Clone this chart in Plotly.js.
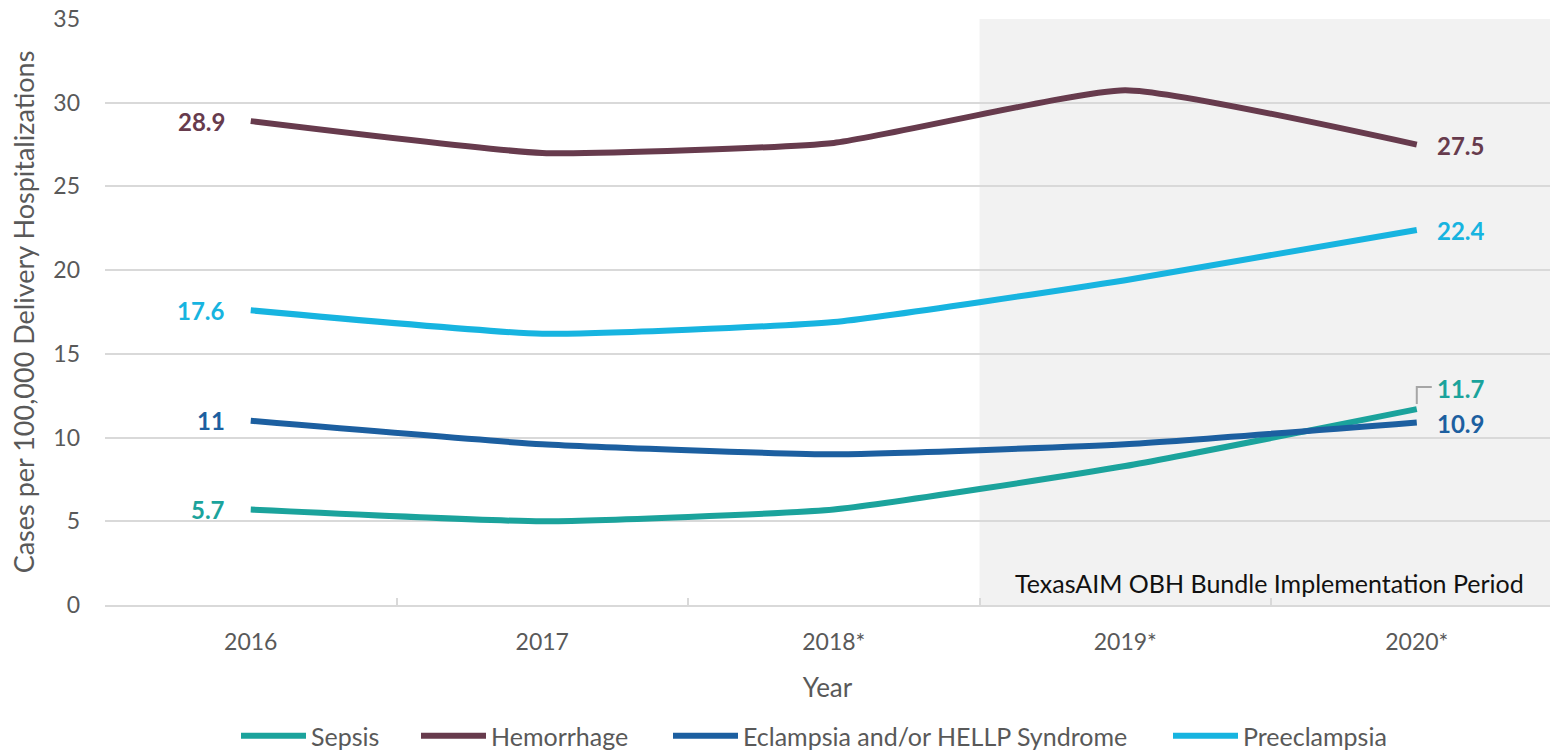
<!DOCTYPE html>
<html>
<head>
<meta charset="utf-8">
<script src="https://cdn.plot.ly/plotly-3.0.1.min.js"></script>
<style>html,body{margin:0;padding:0;background:#fff;}#chart{width:1550px;height:754px;}</style>
</head>
<body>
<div id="chart"></div>
<script>
const years = ["2016", "2017", "2018*", "2019*", "2020*"];
const sepsis = [5.7, 5.0, 5.7, 8.3, 11.7];
const hemorrhage = [28.9, 27.0, 27.6, 30.75, 27.5];
const eclampsia = [11.0, 9.6, 9.0, 9.6, 10.9];
const preeclampsia = [17.6, 16.2, 16.9, 19.4, 22.4];
const yTicks = [0, 5, 10, 15, 20, 25, 30, 35];

const FONT = "Lato, 'Open Sans', sans-serif";
const GRAY = "#595959";
const C = {sepsis: "#1BA39C", hem: "#673B4D", ecl: "#1C5FA0", pre: "#17B4E0"};

function tr(name, y, color, leg) {
  return {x: years, y: y, name: name, type: "scatter", mode: "lines", legend: leg,
    line: {color: color, width: 6, shape: "spline", smoothing: 0.45}, hoverinfo: "skip"};
}
const traces = [
  tr("Sepsis", sepsis, C.sepsis, "legend"),
  tr("Hemorrhage", hemorrhage, C.hem, "legend2"),
  tr("Eclampsia and/or HELLP Syndrome", eclampsia, C.ecl, "legend3"),
  tr("Preeclampsia", preeclampsia, C.pre, "legend4")
];

const series = [[sepsis, C.sepsis], [hemorrhage, C.hem], [eclampsia, C.ecl], [preeclampsia, C.pre]];
const annotations = [];
const last = years.length - 1;
const LBL = 24;
series.forEach(([vals, col]) => {
  annotations.push({x: 0, y: vals[0], xref: "x", yref: "y", text: String(vals[0]),
    showarrow: false, xanchor: "right", xshift: -24, font: {family: FONT, size: LBL, color: col, weight: 700}});
  const isSepsis = (vals === sepsis);
  annotations.push({x: last, y: vals[last], xref: "x", yref: "y", text: String(vals[last]),
    showarrow: false, xanchor: "left", xshift: 18, yshift: isSepsis ? 21 : -1,
    font: {family: FONT, size: LBL, color: col, weight: 700}});
});
annotations.push({x: 1, y: 0, xref: "paper", yref: "y", xanchor: "right", yanchor: "bottom",
  xshift: -24, yshift: 5, showarrow: false, text: "TexasAIM OBH Bundle Implementation Period",
  font: {family: FONT, size: 25, color: "#111"}});

function leg(px) {
  return {orientation: "h", xref: "container", yref: "container", x: px / 1550, xanchor: "left",
    y: 1 - 736 / 754, yanchor: "middle", font: {family: FONT, size: 25, color: GRAY},
    itemwidth: 65, bgcolor: "rgba(0,0,0,0)", borderwidth: 0};
}

const layout = {
  width: 1550, height: 754,
  margin: {l: 105, r: 0, t: 19, b: 149},
  paper_bgcolor: "#fff", plot_bgcolor: "#fff",
  font: {family: FONT, color: GRAY},
  showlegend: true,
  legend: leg(236), legend2: leg(416), legend3: leg(668), legend4: leg(1168),
  xaxis: {type: "category", range: [-0.5, 4.457], tickson: "boundaries", ticks: "inside", ticklen: 7,
    tickcolor: "#D9D9D9", tickwidth: 2, showline: true, linecolor: "#D9D9D9", linewidth: 2,
    showgrid: false, tickfont: {family: FONT, size: 23, color: GRAY}, ticklabelstandoff: 15,
    automargin: false,
    title: {text: "Year", font: {family: FONT, size: 26, color: GRAY}, standoff: 25}},
  yaxis: {range: [0, 35], tickvals: yTicks, showgrid: true, gridcolor: "#D9D9D9", gridwidth: 2,
    zeroline: false, showline: false, ticks: "", tickfont: {family: FONT, size: 23, color: GRAY},
    ticklabelstandoff: 24, automargin: false,
    title: {text: "Cases per 100,000 Delivery Hospitalizations", font: {family: FONT, size: 27, color: GRAY}, standoff: 10}},
  shapes: [
    {type: "rect", xref: "x", yref: "paper", x0: 2.5, x1: 4.457, y0: 0, y1: 1,
      fillcolor: "#F2F2F2", line: {width: 0}, layer: "below"},
    {type: "path", xref: "x", yref: "y", xsizemode: "pixel", ysizemode: "pixel",
      xanchor: last, yanchor: sepsis[last], path: "M 0 5 L 0 22 L 15 22",
      line: {color: "#A6A6A6", width: 2}, layer: "above"}
  ],
  annotations: annotations
};

Plotly.newPlot("chart", traces, layout, {displayModeBar: false, staticPlot: true});
</script>
</body>
</html>
